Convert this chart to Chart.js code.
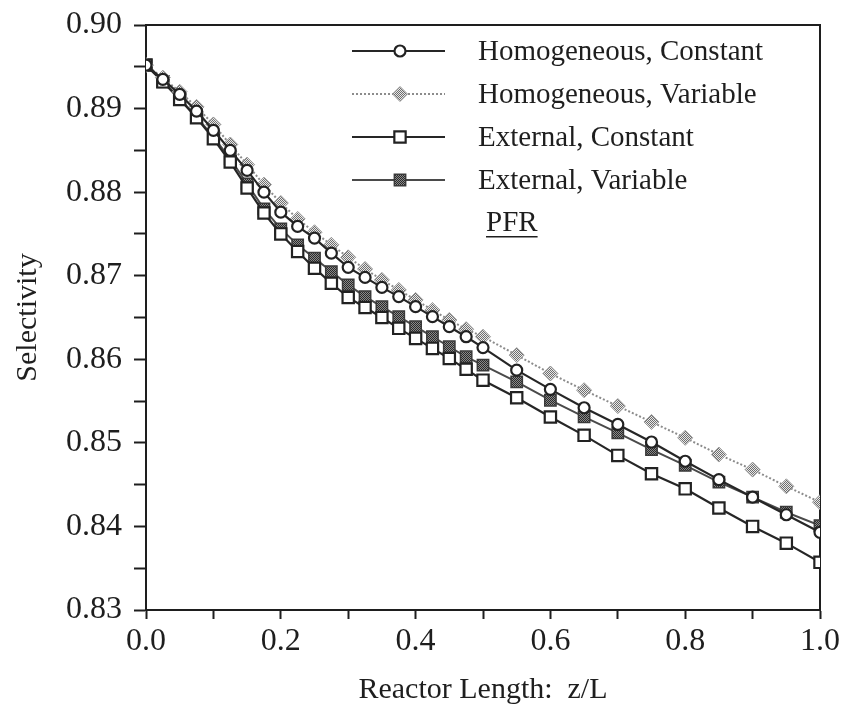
<!DOCTYPE html>
<html>
<head>
<meta charset="utf-8">
<script src="https://cdn.jsdelivr.net/npm/chart.js@4.4.0/dist/chart.umd.min.js"></script>
<style>
  html, body { margin: 0; padding: 0; background: #fff; }
  #wrap { width: 846px; height: 711px; }
</style>
</head>
<body>
<div id="wrap"><canvas id="selChart" width="846" height="711"></canvas></div>
<script>
// ---- data ----
const zL = [0, 0.025, 0.05, 0.075, 0.1, 0.125, 0.15, 0.175, 0.2, 0.225, 0.25, 0.275, 0.3, 0.325, 0.35,
            0.375, 0.4, 0.425, 0.45, 0.475, 0.5, 0.55, 0.6, 0.65, 0.7, 0.75, 0.8, 0.85, 0.9, 0.95, 1.0];

const homConst = [0.8952, 0.8935, 0.8917, 0.8897, 0.8874, 0.8850, 0.8826, 0.8800, 0.8776, 0.8759, 0.8745,
                  0.8727, 0.8710, 0.8698, 0.8686, 0.8675, 0.8663, 0.8651, 0.8639, 0.8627, 0.8614,
                  0.8587, 0.8564, 0.8542, 0.8522, 0.8501, 0.8478, 0.8456, 0.8435, 0.8414, 0.8393];

const homVar = [0.8952, 0.8937, 0.8920, 0.8902, 0.8881, 0.8857, 0.8833, 0.8809, 0.8787, 0.8768, 0.8752,
                0.8737, 0.8722, 0.8708, 0.8695, 0.8683, 0.8671, 0.8659, 0.8647, 0.8636, 0.8627,
                0.8605, 0.8583, 0.8563, 0.8544, 0.8525, 0.8506, 0.8486, 0.8468, 0.8448, 0.8429];

const extConst = [0.8952, 0.8932, 0.8911, 0.8889, 0.8864, 0.8836, 0.8805, 0.8775, 0.8750, 0.8729, 0.8709,
                  0.8691, 0.8674, 0.8662, 0.8650, 0.8637, 0.8625, 0.8613, 0.8601, 0.8588, 0.8575,
                  0.8554, 0.8531, 0.8509, 0.8485, 0.8463, 0.8445, 0.8422, 0.8400, 0.8380, 0.8357];

const extVar = [0.8952, 0.8932, 0.8912, 0.8890, 0.8866, 0.8840, 0.8810, 0.8780, 0.8756, 0.8737, 0.8721,
                0.8705, 0.8689, 0.8675, 0.8663, 0.8651, 0.8639, 0.8627, 0.8615, 0.8603, 0.8593,
                0.8573, 0.8551, 0.8531, 0.8512, 0.8492, 0.8473, 0.8453, 0.8435, 0.8417, 0.8401];

const seriesNames = ["Homogeneous, Constant", "Homogeneous, Variable", "External, Constant", "External, Variable"];
const legendNote = "PFR";

// ---- helpers ----
const FONT = "'Liberation Serif', 'Times New Roman', serif";
const INK = "#1e1e1e";

const canvas = document.getElementById('selChart');
const ctx = canvas.getContext('2d');

// small checker pattern, looks like the stippled markers of the old plot
function stipple(fg, bg) {
    const c = document.createElement('canvas');
    c.width = 2; c.height = 2;
    const g = c.getContext('2d');
    g.fillStyle = bg; g.fillRect(0, 0, 2, 2);
    g.fillStyle = fg; g.fillRect(0, 0, 1, 1); g.fillRect(1, 1, 1, 1);
    return ctx.createPattern(c, 'repeat');
}

const toPts = ys => zL.map((x, i) => ({ x: x, y: ys[i] }));

// ---- plugins ----
const framePlugin = {
    id: 'frame',
    beforeDatasetsDraw(chart) {
        const a = chart.chartArea, c = chart.ctx;
        c.save();
        c.strokeStyle = INK;
        c.lineWidth = 2;
        c.strokeRect(a.left, a.top, a.right - a.left, a.bottom - a.top);
        c.restore();
    }
};

const legendPlugin = {
    id: 'boxLegend',
    afterDraw(chart) {
        const c = chart.ctx;
        const x0 = 352, x1 = 445, xm = 400, xt = 478;
        c.save();
        chart.data.datasets.forEach((ds, i) => {
            const y = 51 + i * 43;
            c.beginPath();
            c.strokeStyle = ds.borderColor;
            c.lineWidth = ds.borderWidth;
            c.setLineDash(ds.borderDash || []);
            c.moveTo(x0, y); c.lineTo(x1, y);
            c.stroke();
            c.setLineDash([]);
            c.fillStyle = ds.pointBackgroundColor;
            c.strokeStyle = ds.pointBorderColor;
            c.lineWidth = ds.pointBorderWidth;
            Chart.helpers.drawPoint(c, { pointStyle: ds.pointStyle, radius: ds.pointRadius, rotation: 0, borderWidth: ds.pointBorderWidth }, xm, y);
            c.fillStyle = INK;
            c.font = "29px " + FONT;
            c.textBaseline = 'middle';
            c.fillText(ds.label, xt, y + 1);
        });
        // underlined note below the entries
        const yn = 51 + 4 * 43;
        c.font = "29px " + FONT;
        c.fillStyle = INK;
        c.textBaseline = 'middle';
        c.fillText(legendNote, 486, yn);
        const w = c.measureText(legendNote).width;
        c.fillRect(486, yn + 13, w, 1.5);
        c.restore();
    }
};

// ---- chart ----
new Chart(ctx, {
    type: 'line',
    data: {
        datasets: [{
            label: seriesNames[0],
            data: toPts(homConst),
            borderColor: '#262626',
            borderWidth: 2.2,
            pointStyle: 'circle',
            pointRadius: 5.5,
            pointBackgroundColor: '#ffffff',
            pointBorderColor: '#222222',
            pointBorderWidth: 2.2
        }, {
            label: seriesNames[1],
            data: toPts(homVar),
            borderColor: '#8c8c8c',
            borderWidth: 2,
            borderDash: [2, 2],
            pointStyle: 'rectRot',
            pointRadius: 7.5,
            pointBackgroundColor: stipple('#6e6e6e', '#e8e8e8'),
            pointBorderColor: '#9a9a9a',
            pointBorderWidth: 1
        }, {
            label: seriesNames[2],
            data: toPts(extConst),
            borderColor: '#262626',
            borderWidth: 2.2,
            pointStyle: 'rect',
            pointRadius: 8,
            pointBackgroundColor: '#ffffff',
            pointBorderColor: '#222222',
            pointBorderWidth: 2.2
        }, {
            label: seriesNames[3],
            data: toPts(extVar),
            borderColor: '#4a4a4a',
            borderWidth: 2,
            pointStyle: 'rect',
            pointRadius: 8,
            pointBackgroundColor: stipple('#2a2a2a', '#8a8a8a'),
            pointBorderColor: '#3a3a3a',
            pointBorderWidth: 1.5
        }]
    },
    options: {
        responsive: false,
        animation: false,
        layout: { padding: { top: 25, right: 26, left: 0, bottom: 0 } },
        plugins: {
            legend: { display: false },
            tooltip: { enabled: false }
        },
        elements: { line: { tension: 0 } },
        scales: {
            x: {
                type: 'linear',
                min: 0, max: 1,
                afterFit: s => { s.height = 101; s.paddingLeft = 0; s.paddingRight = 0; },
                ticks: {
                    stepSize: 0.1,
                    autoSkip: false,
                    maxRotation: 0,
                    padding: 3,
                    color: INK,
                    font: { family: FONT, size: 32 },
                    callback: v => (Math.round(v * 10) % 2 === 0 ? v.toFixed(1) : '')
                },
                grid: { drawOnChartArea: false, tickLength: 9, tickWidth: 2, tickColor: INK },
                border: { color: INK, width: 2 },
                title: {
                    display: true,
                    text: 'Reactor Length:  z/L',
                    color: INK,
                    font: { family: FONT, size: 30 },
                    padding: { top: 0, bottom: 3 }
                }
            },
            y: {
                min: 0.83, max: 0.90,
                afterFit: s => { s.width = 146; s.paddingTop = 0; s.paddingBottom = 0; },
                ticks: {
                    stepSize: 0.005,
                    autoSkip: false,
                    padding: 12,
                    color: INK,
                    font: { family: FONT, size: 32 },
                    callback: v => (Math.round(v * 1000) % 10 === 0 ? v.toFixed(2) : '')
                },
                grid: { drawOnChartArea: false, tickLength: 12, tickWidth: 2, tickColor: INK },
                border: { color: INK, width: 2 },
                title: {
                    display: true,
                    text: 'Selectivity',
                    color: INK,
                    font: { family: FONT, size: 30 },
                    padding: { top: 10, bottom: 0 }
                }
            }
        }
    },
    plugins: [framePlugin, legendPlugin]
});
</script>
</body>
</html>
